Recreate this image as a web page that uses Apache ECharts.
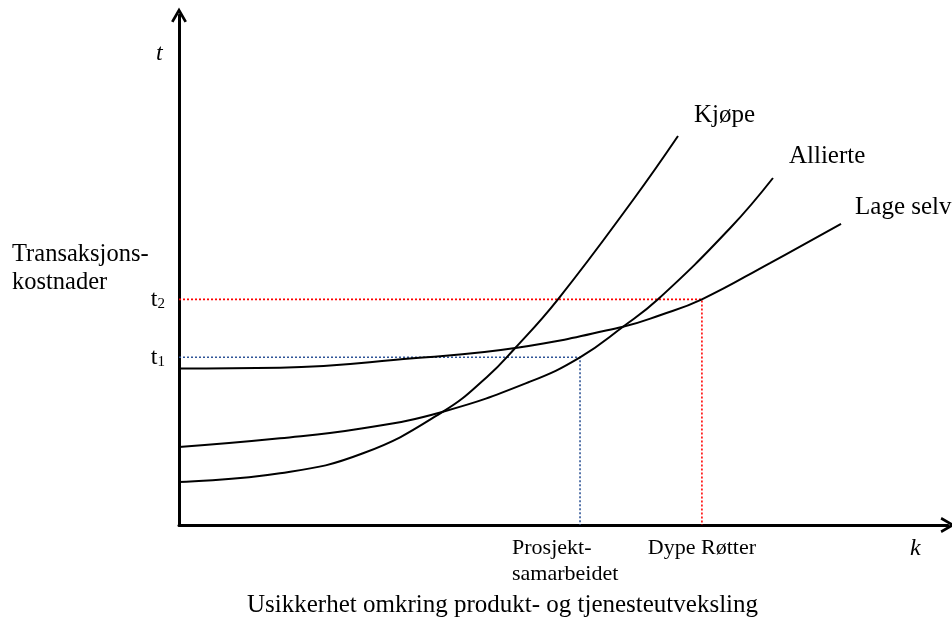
<!DOCTYPE html>
<html>
<head>
<meta charset="utf-8">
<script src="https://cdn.jsdelivr.net/npm/echarts@6/dist/echarts.min.js"></script>
<style>html,body{margin:0;padding:0;background:#fff}#c{width:952px;height:624px}</style>
</head>
<body>
<div id="c"></div>
<script>
// Curve data (x = uncertainty k, y = transaction cost t), axis 0..100
const kjopeX   = [0, 13.13, 23.93, 34.33, 40.05, 43.69, 49.28, 59.04, 64.89];
const kjopeY   = [8.43, 10.14, 14.06, 22.22, 29.02, 34.65, 44.25, 63.73, 76.27];
const alliertX = [0, 13.13, 23.93, 34.33, 45.64, 52.15, 57.74, 62.29, 71.65, 77.24];
const alliertY = [15.29, 17.0, 18.96, 22.22, 28.1, 32.88, 38.88, 44.25, 58.18, 68.04];
const lageX    = [0, 13.13, 30.43, 43.95, 57.74, 62.55, 68.0, 76.85, 86.09];
const lageY    = [30.69, 30.84, 32.69, 34.76, 38.88, 41.14, 44.25, 51.37, 59.02];
const seriesNames = ['Kjøpe', 'Allierte', 'Lage selv'];
const t1 = 32.88, t2 = 44.25;
const prosjektK = 52.15, dypeK = 68.0;
const xLabelTexts = ['Prosjekt-\nsamarbeidet', 'Dype Røtter'];

const zip = (xs, ys) => xs.map((x, i) => [x, ys[i]]);
const serif = '"Liberation Serif", "Times New Roman", serif';
const arrowPath = 'path://M0,14 L8,0 L16,14 L13.6,15.2 L8,5.5 L2.4,15.2 Z';

const curveStyle = (name, off) => ({
  type: 'line', name, smooth: 0.45, symbol: 'none',
  lineStyle: { color: '#000', width: 2 },
  endLabel: { show: true, formatter: name, color: '#000', fontFamily: serif, fontSize: 25, offset: off },
  z: 5
});

const xLabel = (text, align, off) => ({
  show: true, formatter: text, color: '#000', fontFamily: serif, fontSize: 22, lineHeight: 26,
  align, verticalAlign: 'top', distance: 0, offset: off
});

const chart = echarts.init(document.getElementById('c'));
chart.setOption({
  animation: false,
  backgroundColor: '#fff',
  grid: { left: 179, top: 15, right: 4, bottom: 99, containLabel: false },
  xAxis: {
    type: 'value', min: 0, max: 100,
    axisLine: { show: true, onZero: false, lineStyle: { color: '#000', width: 3 },
      symbol: ['none', arrowPath], symbolSize: [17, 15], symbolOffset: [0, 0] },
    axisTick: { show: false }, axisLabel: { show: false }, splitLine: { show: false }
  },
  yAxis: {
    type: 'value', min: 0, max: 100,
    axisLine: { show: true, onZero: false, lineStyle: { color: '#000', width: 3 },
      symbol: ['none', arrowPath], symbolSize: [17, 15], symbolOffset: [0, 0] },
    axisTick: { show: false },
    splitLine: { show: false },
    axisLabel: {
      show: true, customValues: [t1, t2], margin: 14,
      formatter: v => '{b|t}{s|' + (Math.abs(v - t1) < 0.01 ? '1' : '2') + '}',
      rich: {
        b: { fontFamily: serif, fontSize: 24, color: '#000' },
        s: { fontFamily: serif, fontSize: 15, color: '#000', verticalAlign: 'bottom', padding: [10, 0, 0, 0] }
      }
    }
  },
  series: [
    Object.assign(curveStyle(seriesNames[0], [8, -21]), { data: zip(kjopeX, kjopeY) }),
    Object.assign(curveStyle(seriesNames[1], [8, -22]), { data: zip(alliertX, alliertY) }),
    Object.assign(curveStyle(seriesNames[2], [6, -17]), { data: zip(lageX, lageY) }),
    {
      type: 'line', symbol: 'none', silent: true,
      data: [[0, t1], [prosjektK, t1], [prosjektK, 0]],
      lineStyle: { color: '#2f5597', width: 1.6, type: [2, 2] }, z: 3,
      endLabel: xLabel(xLabelTexts[0], 'left', [-68, 10])
    },
    {
      type: 'line', symbol: 'none', silent: true,
      data: [[0, t2], [dypeK, t2], [dypeK, 0]],
      lineStyle: { color: '#ff0000', width: 1.6, type: [2, 2] }, z: 3,
      endLabel: xLabel(xLabelTexts[1], 'center', [0, 10])
    }
  ],
  graphic: [
    { type: 'text', left: 156, top: 42, style: { text: 't', font: 'italic 24px ' + serif, fill: '#000' } },
    { type: 'text', left: 910, top: 537, style: { text: 'k', font: 'italic 24px ' + serif, fill: '#000' } },
    { type: 'text', left: 12, top: 241, style: { text: 'Transaksjons-\nkostnader', font: '24.5px ' + serif, fill: '#000', lineHeight: 28 } },
    { type: 'text', left: 247, top: 593, style: { text: 'Usikkerhet omkring produkt- og tjenesteutveksling', font: '25px ' + serif, fill: '#000' } }
  ]
});
</script>
</body>
</html>
